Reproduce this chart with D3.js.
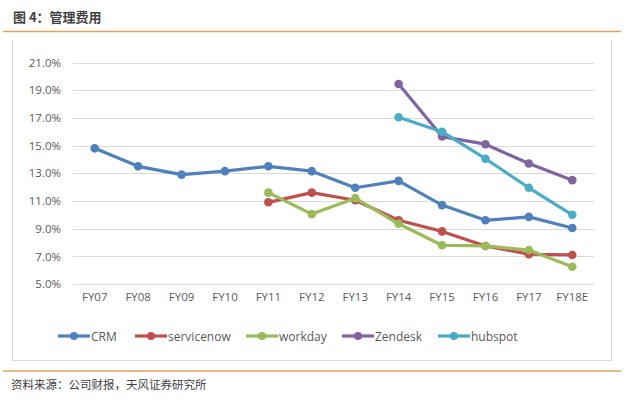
<!DOCTYPE html>
<html><head><meta charset="utf-8">
<script src="https://cdn.jsdelivr.net/npm/d3@7"></script>
<style>body{margin:0;background:#fff;}svg{display:block;font-family:"Noto Sans CJK SC","DejaVu Sans",sans-serif;}</style>
</head><body><svg id="c" width="624" height="403"></svg>
<script>
const categories = ["FY07","FY08","FY09","FY10","FY11","FY12","FY13","FY14","FY15","FY16","FY17","FY18E"];
const yTicks = [5,7,9,11,13,15,17,19,21];
const seriesNames = ["CRM","servicenow","workday","Zendesk","hubspot"];
const crm = [14.8,13.5,12.9,13.15,13.5,13.15,11.95,12.45,10.7,9.6,9.85,9.05];
const servicenow = [null,null,null,null,10.9,11.6,11.05,9.6,8.8,7.75,7.15,7.1];
const workday = [null,null,null,null,11.6,10.05,11.2,9.35,7.8,7.75,7.45,6.25];
const zendesk = [null,null,null,null,null,null,null,19.45,15.65,15.1,13.7,12.5];
const hubspot = [null,null,null,null,null,null,null,17.05,16.0,14.05,11.95,10.0];
const colors = ["#4F81BD","#C0504D","#9BBB59","#8064A2","#4BACC6"];
const allSeries = [crm,servicenow,workday,zendesk,hubspot];

const svg = d3.select("#c");
// header
svg.append("text").attr("x",13).attr("y",22).attr("font-size",13).attr("font-weight","bold").attr("fill","#3f3f3f").text("图 4：管理费用");
svg.append("line").attr("x1",3).attr("x2",621).attr("y1",31.5).attr("y2",31.5).attr("stroke","#E3A25C").attr("stroke-width",1.3);
// chart box
svg.append("path").attr("d","M12.5,40 V360.5 H611.5 V40").attr("fill","none").attr("stroke","#d9d9d9");
// footer
svg.append("line").attr("x1",3).attr("x2",621).attr("y1",371).attr("y2",371).attr("stroke","#E3A25C").attr("stroke-width",1.3);
svg.append("text").attr("x",11).attr("y",389).attr("font-size",11.5).attr("fill","#404040").text("资料来源：公司财报，天风证券研究所");

const x = d3.scaleBand().domain(categories).range([73,594]);
const y = d3.scaleLinear().domain([5,21]).range([284,62.5]);

const g = svg.append("g");
g.selectAll("line.grid").data(yTicks).join("line").attr("class","grid")
  .attr("x1",73).attr("x2",594).attr("y1",d=>Math.round(y(d))+0.5).attr("y2",d=>Math.round(y(d))+0.5)
  .attr("stroke","#d9d9d9").attr("stroke-width",1);

const yAxis = d3.axisLeft(y).tickValues(yTicks).tickSize(0).tickPadding(10).tickFormat(d=>d.toFixed(1)+"%");
const ya = svg.append("g").attr("transform","translate(71,0)").call(yAxis);
ya.select(".domain").remove();
ya.selectAll("text").attr("font-size",11.5).attr("fill","#595959").attr("font-family","'Open Sans','DejaVu Sans',sans-serif");

const xAxis = d3.axisBottom(x).tickSize(0).tickPadding(9);
const xa = svg.append("g").attr("transform","translate(0,284)").call(xAxis);
xa.select(".domain").remove();
xa.selectAll("text").attr("font-size",11.5).attr("fill","#595959").attr("font-family","'Open Sans','DejaVu Sans',sans-serif");

const line = d3.line().defined(d=>d!=null).x((d,i)=>x(categories[i])+x.bandwidth()/2).y(d=>y(d));
allSeries.forEach((s,k)=>{
  const pts = s.map((v,i)=>({v,i})).filter(p=>p.v!=null);
  g.append("path").datum(s).attr("d",line).attr("fill","none").attr("stroke",colors[k]).attr("stroke-width",3.2).attr("stroke-linejoin","round");
  g.selectAll("circle.s"+k).data(pts).join("circle").attr("class","s"+k)
    .attr("cx",p=>x(categories[p.i])+x.bandwidth()/2).attr("cy",p=>y(p.v)).attr("r",4.3).attr("fill",colors[k]);
});

// legend
const legX = [58,135,246,342,438];
const lg = svg.append("g");
seriesNames.forEach((n,k)=>{
  const gg = lg.append("g").attr("transform",`translate(${legX[k]},336)`);
  gg.append("line").attr("x1",0).attr("x2",32).attr("stroke",colors[k]).attr("stroke-width",3.2);
  gg.append("circle").attr("cx",16).attr("r",4).attr("fill",colors[k]);
  gg.append("text").attr("x",33).attr("y",4.5).attr("font-size",12).attr("fill","#595959").attr("font-family","'Open Sans','DejaVu Sans',sans-serif").text(n);
});
</script></body></html>
